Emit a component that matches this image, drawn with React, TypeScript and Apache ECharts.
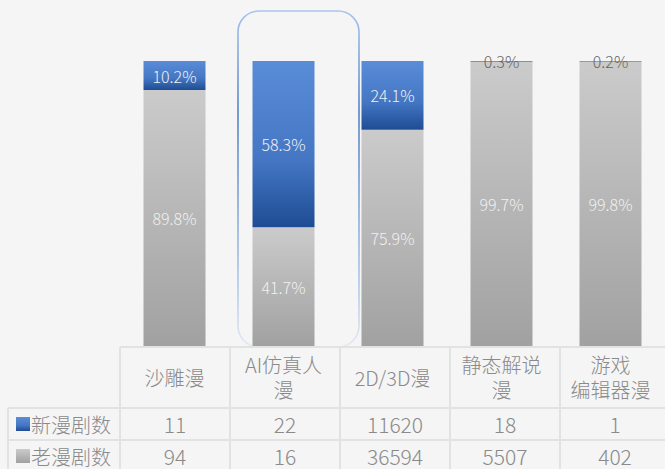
import React, { useEffect, useRef } from "react";
import * as echarts from "echarts";

const categories = ["沙雕漫", "AI仿真人\n漫", "2D/3D漫", "静态解说\n漫", "游戏\n编辑器漫"];
const newPct = [10.2, 58.3, 24.1, 0.3, 0.2];
const oldPct = [89.8, 41.7, 75.9, 99.7, 99.8];
const newCounts = ["11", "22", "11620", "18", "1"];
const oldCounts = ["94", "16", "36594", "5507", "402"];
const rowNames = ["新漫剧数", "老漫剧数"];
const highlightIndex = 1;

const FONT = "'Noto Sans CJK SC', 'Noto Sans', sans-serif";
const GRID_LEFT = 120;
const GRID_TOP = 61;
const COL_W = 110;
const GRID_H = 285;
const TEXT_COLOR = "#8a8a8a";
const LINE_COLOR = "#e2e2e2";

const blueGrad = () =>
  new echarts.graphic.LinearGradient(0, 0, 0, 1, [
    { offset: 0, color: "#5a8dd8" },
    { offset: 0.6, color: "#4476c3" },
    { offset: 1, color: "#1e4c94" },
  ]);
const grayGrad = () =>
  new echarts.graphic.LinearGradient(0, 0, 0, 1, [
    { offset: 0, color: "#cbcbcb" },
    { offset: 1, color: "#a1a1a1" },
  ]);

export default function App() {
  const ref = useRef<HTMLDivElement>(null);
  useEffect(() => {
    if (!ref.current) return;
    const chart = echarts.init(ref.current, undefined, { renderer: "svg" });
    const n = categories.length;
    const bottom = GRID_TOP + GRID_H;
    const rowTops = [bottom + 62, bottom + 94];
    const rowH = 32;
    const colCenter = (i: number) => GRID_LEFT + COL_W * (i + 0.5);

    const graphics: any[] = [];
    // highlight frame
    graphics.push({
      type: "rect",
      z: -1,
      shape: { x: colCenter(highlightIndex) - 47, y: 11, width: 121, height: 336, r: 21 },
      style: {
        fill: "rgba(0,0,0,0)",
        lineWidth: 1.6,
        stroke: new echarts.graphic.LinearGradient(0, 0, 0, 1, [
          { offset: 0, color: "#a9c5ee" },
          { offset: 0.3, color: "#5583c8" },
          { offset: 0.55, color: "#7fa3da" },
          { offset: 0.85, color: "#b9cde9" },
          { offset: 1, color: "#e4eaf4" },
        ]),
      },
    });
    // table lines
    const lineStyle = { stroke: LINE_COLOR, lineWidth: 2 };
    graphics.push({ type: "line", shape: { x1: GRID_LEFT, y1: bottom + 1, x2: 680, y2: bottom + 1 }, style: lineStyle });
    rowTops.forEach((y) =>
      graphics.push({ type: "line", shape: { x1: 8, y1: y, x2: 680, y2: y }, style: lineStyle })
    );
    graphics.push({ type: "line", shape: { x1: 8, y1: rowTops[0], x2: 8, y2: 480 }, style: lineStyle });
    for (let i = 0; i <= n; i++) {
      const x = GRID_LEFT + COL_W * i;
      graphics.push({ type: "line", shape: { x1: x, y1: bottom + 1, x2: x, y2: 480 }, style: lineStyle });
    }
    // row labels
    [newCounts, oldCounts].forEach((vals, r) => {
      const cy = rowTops[r] + rowH / 2;
      graphics.push({
        type: "rect",
        shape: { x: 16, y: cy - 7, width: 14, height: 14 },
        style: { fill: r === 0 ? blueGrad() : grayGrad() },
      });
      graphics.push({
        type: "text",
        x: 31,
        y: cy,
        style: {
          text: rowNames[r],
          fontSize: 20,
          fontFamily: FONT,
          fontWeight: 300,
          fill: TEXT_COLOR,
          verticalAlign: "middle",
          align: "left",
        },
      });
      vals.forEach((v, i) => {
        graphics.push({
          type: "text",
          x: colCenter(i),
          y: cy,
          style: {
            text: v,
            fontSize: 21,
            fontFamily: FONT,
            fontWeight: 300,
            fill: TEXT_COLOR,
            verticalAlign: "middle",
            align: "center",
          },
        });
      });
    });

    const labelFor = (pct: number) =>
      pct < 2 ? { color: "#666666" } : { color: "#f0f0f0" };

    const barLabel = {
      show: true,
      position: "inside",
      fontSize: 16,
      fontFamily: FONT,
      fontWeight: 300,
      formatter: (p: any) => p.value.toFixed(1) + "%",
    };

    chart.setOption({
      animation: false,
      backgroundColor: "#f5f5f5",
      grid: { left: GRID_LEFT, top: GRID_TOP, width: COL_W * n, height: GRID_H },
      xAxis: {
        type: "category",
        data: categories,
        axisLine: { show: false },
        axisTick: { show: false },
        axisLabel: {
          margin: 31,
          verticalAlign: "middle",
          fontSize: 20,
          lineHeight: 25,
          fontFamily: FONT,
          fontWeight: 300,
          color: TEXT_COLOR,
          interval: 0,
        },
      },
      yAxis: { type: "value", min: 0, max: 100, show: false },
      series: [
        {
          name: rowNames[1],
          type: "bar",
          stack: "a",
          barWidth: 62,
          itemStyle: { color: grayGrad() },
          label: barLabel,
          data: oldPct.map((v) => ({ value: v, label: labelFor(v) })),
        },
        {
          name: rowNames[0],
          type: "bar",
          stack: "a",
          barWidth: 62,
          itemStyle: { color: blueGrad() },
          label: barLabel,
          data: newPct.map((v) => ({ value: v, label: labelFor(v) })),
        },
      ],
      graphic: graphics,
    });
    return () => chart.dispose();
  }, []);
  return (
    <div
      ref={ref}
      style={{ position: "fixed", left: 0, top: 0, width: 665, height: 469 }}
    />
  );
}
